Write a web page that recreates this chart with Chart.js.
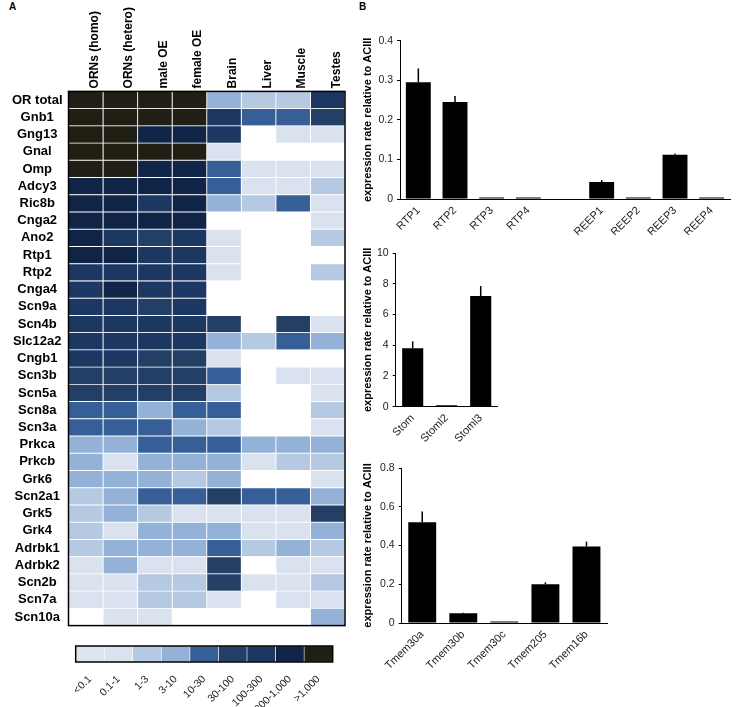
<!DOCTYPE html>
<html>
<head>
<meta charset="utf-8">
<script src="https://cdn.jsdelivr.net/npm/chart.js@4.4.1/dist/chart.umd.min.js"></script>
<style>
  body { margin: 0; background: #fff; }
  #wrap { position: relative; width: 740px; height: 707px; font-family: "Liberation Sans", Arial, sans-serif; }
  canvas { position: absolute; }
  .panel { position: absolute; font-weight: bold; font-size: 10px; }
</style>
</head>
<body>
<div id="wrap">
  <div class="panel" style="left:9px;top:1px">A</div>
  <div class="panel" style="left:359px;top:1px">B</div>
  <canvas id="heat" width="350" height="630" style="left:0;top:0"></canvas>
  <canvas id="scale" width="350" height="71" style="left:0;top:636px"></canvas>
  <canvas id="rtp" width="380" height="205" style="left:355px;top:30px"></canvas>
  <canvas id="stom" width="150" height="215" style="left:355px;top:240px"></canvas>
  <canvas id="tmem" width="260" height="215" style="left:355px;top:455px"></canvas>
</div>
<script>
// heatmap: expression class per gene and tissue (null = not detected)
const tissues = ['ORNs (homo)', 'ORNs (hetero)', 'male OE', 'female OE', 'Brain', 'Liver', 'Muscle', 'Testes'];
const genes = ['OR total', 'Gnb1', 'Gng13', 'Gnal', 'Omp', 'Adcy3', 'Ric8b', 'Cnga2', 'Ano2', 'Rtp1',
  'Rtp2', 'Cnga4', 'Scn9a', 'Scn4b', 'Slc12a2', 'Cngb1', 'Scn3b', 'Scn5a', 'Scn8a', 'Scn3a',
  'Prkca', 'Prkcb', 'Grk6', 'Scn2a1', 'Grk5', 'Grk4', 'Adrbk1', 'Adrbk2', 'Scn2b', 'Scn7a', 'Scn10a'];
const n = null;
const levels = [
  [8, 8, 8, 8, 3, 2, 2, 6],
  [8, 8, 8, 8, 6, 4, 4, 5],
  [8, 8, 7, 7, 6, n, 1, 1],
  [8, 8, 8, 8, 1, n, n, n],
  [8, 8, 7, 7, 4, 1, 1, 1],
  [7, 7, 7, 7, 4, 1, 1, 2],
  [7, 7, 6, 7, 3, 2, 4, 1],
  [7, 7, 7, 7, n, n, n, 1],
  [7, 6, 5, 6, 1, n, n, 2],
  [7, 7, 6, 6, 1, n, n, n],
  [6, 6, 6, 6, 1, n, n, 2],
  [6, 7, 6, 6, n, n, n, n],
  [6, 6, 5, 6, n, n, n, n],
  [6, 6, 6, 6, 5, n, 5, 1],
  [6, 6, 6, 6, 3, 2, 4, 3],
  [6, 6, 5, 5, 1, n, n, n],
  [5, 5, 5, 5, 4, n, 1, 1],
  [5, 5, 5, 5, 2, n, n, 1],
  [4, 4, 3, 4, 4, n, n, 2],
  [4, 4, 4, 3, 2, n, n, 1],
  [3, 3, 4, 4, 4, 3, 3, 3],
  [3, 1, 3, 3, 3, 1, 2, 2],
  [3, 3, 3, 2, 3, n, n, 1],
  [2, 3, 4, 4, 5, 4, 4, 3],
  [2, 3, 2, 1, 1, 1, 1, 5],
  [2, 1, 3, 3, 3, 1, 1, 3],
  [2, 3, 3, 3, 4, 2, 3, 2],
  [1, 3, 1, 1, 5, n, 1, 1],
  [1, 1, 2, 2, 5, 1, 1, 2],
  [1, 1, 2, 2, 1, n, 1, 1],
  [n, 1, 1, n, n, n, n, 3]
];
const levelLabels = ['<0.1', '0.1-1', '1-3', '3-10', '10-30', '30-100', '100-300', '300-1,000', '>1,000'];
const levelColors = ['#dce5f0', '#d9e2ee', '#b6c9e2', '#94b2d7', '#365f98', '#243f66', '#1b3762', '#102447', '#211e14'];

// bar charts
const rtpLabels = ['RTP1', 'RTP2', 'RTP3', 'RTP4', '', 'REEP1', 'REEP2', 'REEP3', 'REEP4'];
const rtpValues = [0.295, 0.245, 0.001, 0.004, null, 0.043, 0.003, 0.112, 0.004];
const rtpErrors = [0.035, 0.015, 0, 0, null, 0.005, 0, 0.003, 0];
const stomLabels = ['Stom', 'Stoml2', 'Stoml3'];
const stomValues = [3.8, 0.06, 7.2];
const stomErrors = [0.45, 0, 0.65];
const tmemLabels = ['Tmem30a', 'Tmem30b', 'Tmem30c', 'Tmem205', 'Tmem16b'];
const tmemValues = [0.52, 0.05, 0.002, 0.2, 0.395];
const tmemErrors = [0.055, 0.003, 0, 0.01, 0.025];

Chart.defaults.font.family = '"Liberation Sans", Arial, sans-serif';
Chart.defaults.animation = false;
Chart.defaults.plugins.legend.display = false;
Chart.defaults.plugins.tooltip.enabled = false;

const framePlugin = {
  id: 'frame',
  afterDatasetsDraw(chart) {
    const a = chart.chartArea, ctx = chart.ctx;
    ctx.save();
    ctx.strokeStyle = '#000';
    ctx.lineWidth = 1.5;
    ctx.strokeRect(a.left, a.top, a.right - a.left, a.bottom - a.top);
    ctx.restore();
  }
};

const errorBars = {
  id: 'errorBars',
  afterDatasetsDraw(chart) {
    const ctx = chart.ctx, y = chart.scales.y;
    chart.data.datasets.forEach((ds, di) => {
      if (!ds.errors) return;
      chart.getDatasetMeta(di).data.forEach((bar, i) => {
        const v = ds.data[i], e = ds.errors[i];
        if (v == null || !e) return;
        ctx.save();
        ctx.strokeStyle = '#000';
        ctx.lineWidth = 1.5;
        ctx.beginPath();
        ctx.moveTo(bar.x, y.getPixelForValue(v));
        ctx.lineTo(bar.x, y.getPixelForValue(v + e));
        ctx.stroke();
        ctx.restore();
      });
    });
  }
};

new Chart(document.getElementById('heat'), {
  type: 'bar',
  data: {
    labels: genes,
    datasets: tissues.map((t, j) => ({
      label: t,
      data: genes.map(() => [j, j + 1]),
      backgroundColor: levels.map(row => row[j] == null ? '#ffffff' : levelColors[row[j]]),
      borderColor: '#ffffff',
      borderWidth: 0.8,
      borderSkipped: false,
      barPercentage: 1,
      categoryPercentage: 1,
      grouped: false
    }))
  },
  options: {
    indexAxis: 'y',
    responsive: false,
    layout: { padding: { right: 5, bottom: 4.4 } },
    scales: {
      x: { type: 'linear', min: 0, max: 8, display: false },
      xTop: {
        type: 'category', labels: tissues, position: 'top', offset: true,
        grid: { display: false, drawTicks: false }, border: { display: false },
        ticks: { autoSkip: false, minRotation: 90, maxRotation: 90, labelOffset: 23, color: '#000', font: { size: 12, weight: 'bold' }, padding: 3 },
        afterFit(s) { s.height = 91.4; s.paddingLeft = 0; s.paddingRight = 0; }
      },
      y: {
        offset: true,
        grid: { display: false, drawTicks: false }, border: { display: false },
        ticks: { autoSkip: false, crossAlign: 'center', color: '#000', font: { size: 13, weight: 'bold' }, padding: 6 },
        afterFit(s) { s.width = 68.5; s.paddingTop = 0; s.paddingBottom = 0; }
      }
    }
  },
  plugins: [framePlugin]
});

new Chart(document.getElementById('scale'), {
  type: 'bar',
  data: {
    labels: levelLabels,
    datasets: [{
      data: levelLabels.map(() => [0, 1]),
      backgroundColor: levelColors,
      borderColor: '#ffffff',
      borderWidth: 0.6,
      borderSkipped: false,
      barPercentage: 1,
      categoryPercentage: 1
    }]
  },
  options: {
    responsive: false,
    layout: { padding: { left: 75.7, right: 17.3, top: 10 } },
    scales: {
      y: { min: 0, max: 1, display: false },
      x: {
        grid: { display: false, drawTicks: false }, border: { display: false },
        ticks: { autoSkip: false, minRotation: 45, maxRotation: 45, color: '#222', font: { size: 10.5 }, padding: 11 },
        afterFit(s) { s.height = 45; s.paddingLeft = 0; s.paddingRight = 0; }
      }
    }
  },
  plugins: [framePlugin]
});

function barChart(id, labels, values, errors, max, step, yWidth, xHeight, padding, barPct) {
  return new Chart(document.getElementById(id), {
    type: 'bar',
    data: {
      labels: labels,
      datasets: [{ data: values, errors: errors, backgroundColor: '#000', barPercentage: barPct, categoryPercentage: 1, minBarLength: 1.5 }]
    },
    options: {
      responsive: false,
      layout: { padding: padding },
      scales: {
        x: {
          grid: { display: false, drawTicks: false },
          border: { color: '#000', width: 1 },
          ticks: { autoSkip: false, minRotation: 45, maxRotation: 45, color: '#222', font: { size: 11 }, padding: 5 },
          afterFit(s) { s.height = xHeight; s.paddingLeft = 0; s.paddingRight = 0; }
        },
        y: {
          min: 0, max: max,
          grid: { drawOnChartArea: false, tickLength: 3, color: '#000' },
          border: { color: '#000', width: 1 },
          ticks: { stepSize: step, color: '#222', font: { size: 10.5 }, padding: 4 },
          title: { display: true, text: 'expression rate relative to ACIII', color: '#000', font: { size: 11, weight: 'bold' }, padding: { top: 6, bottom: 0 } },
          afterFit(s) { s.width = yWidth; s.paddingTop = 0; s.paddingBottom = 0; }
        }
      }
    },
    plugins: [errorBars]
  });
}

barChart('rtp', rtpLabels, rtpValues, rtpErrors, 0.4, 0.1, 45, 36, { top: 10.7, right: 5 }, 0.68);
barChart('stom', stomLabels, stomValues, stomErrors, 10, 2, 40.7, 48.3, { top: 13, right: 7.3 }, 0.62);
barChart('tmem', tmemLabels, tmemValues, tmemErrors, 0.8, 0.2, 46.7, 47, { top: 13, right: 8 }, 0.68);
</script>
</body>
</html>
